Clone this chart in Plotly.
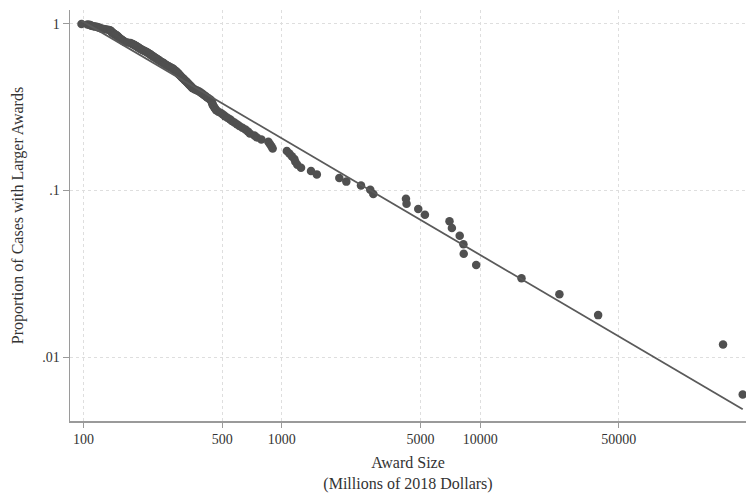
import plotly.graph_objects as go
import numpy as np

# Award sizes (millions of 2018 dollars), sorted ascending
awards = [
    97.7, 104.7, 107.2, 108.5, 109.7, 112.3, 114.9, 117.6, 119.0, 121.1,
    123.2, 126.1, 129.1, 132.9, 136.0, 136.8, 137.6, 138.4, 139.2, 140.0,
    141.3, 142.4, 143.8, 144.9, 146.6, 147.5, 148.3, 149.2, 150.1, 151.0,
    151.8, 153.1, 154.5, 155.9, 157.2, 158.7, 160.0, 162.0, 166.6, 172.5,
    175.5, 177.5, 179.6, 181.7, 184.1, 186.0, 187.9, 189.9, 191.9, 193.7,
    196.4, 199.4, 202.2, 205.3, 208.2, 210.6, 213.0, 215.5, 218.0, 220.0,
    222.6, 225.2, 227.8, 231.0, 233.8, 236.5, 239.3, 242.0, 245.4, 249.5,
    252.9, 255.9, 258.9, 262.8, 267.1, 271.2, 275.9, 280.8, 284.0, 287.4,
    290.7, 294.1, 296.9, 299.7, 302.5, 305.3, 308.2, 311.0, 314.7, 318.3,
    321.7, 325.0, 328.9, 332.3, 336.2, 339.6, 343.6, 347.6, 351.3, 355.3,
    364.5, 374.0, 383.2, 390.8, 397.7, 404.7, 411.8, 419.0, 427.8, 437.3,
    441.4, 444.0, 446.6, 448.1, 451.8, 457.1, 461.4, 466.7, 478.8, 492.9,
    504.5, 516.3, 531.5, 547.1, 560.0, 576.5, 593.4, 610.9, 632.5, 655.0,
    674.3, 690.1, 726.9, 748.4, 788.5, 855.1, 870.1, 885.4, 898.9, 1059.7,
    1090.9, 1123.0, 1156.1, 1169.5, 1196.9, 1249.3, 1403.3, 1501.0, 1949.0, 2113.6,
    2506.0, 2791.0, 2891.0, 4224.0, 4253.0, 4872.0, 5265.0, 7001.0, 7200.0, 7883.0,
    8232.0, 8260.0, 9546.0, 16150.0, 25080.0, 39320.0, 167600.0, 210600.0,
]

# Empirical share of cases with an award at least this large
n_cases = len(awards)
proportion = [(n_cases - i) / n_cases for i in range(n_cases)]

# Fitted power-law line: log10(P) = fit_intercept + fit_slope * log10(award)
fit_intercept = 1.413
fit_slope = -0.70

x_ticks = [100, 500, 1000, 5000, 10000, 50000]
x_tick_labels = ["100", "500", "1000", "5000", "10000", "50000"]
y_ticks = [1, 0.1, 0.01]
y_tick_labels = ["1", ".1", ".01"]

line_x = [min(awards), max(awards)]
line_y = [10 ** (fit_intercept + fit_slope * np.log10(v)) for v in line_x]

fig = go.Figure()
fig.add_trace(go.Scatter(
    x=awards, y=proportion, mode="markers",
    marker=dict(size=8.5, color="#505050", line=dict(width=0)),
    showlegend=False,
))
fig.add_trace(go.Scatter(
    x=line_x, y=line_y, mode="lines",
    line=dict(color="#5a5a5a", width=1.8),
    showlegend=False,
))

font_family = "Liberation Serif"
fig.update_layout(
    width=746, height=493,
    margin=dict(l=70, r=0, t=10, b=72),
    paper_bgcolor="white", plot_bgcolor="white",
    font=dict(family=font_family, color="#333333", size=14),
    xaxis=dict(
        type="log", range=[1.932, 5.34],
        automargin=False,
        tickvals=x_ticks, ticktext=x_tick_labels,
        showline=True, linecolor="#9a9a9a", linewidth=1.5,
        ticks="outside", ticklen=5, tickcolor="#9a9a9a", tickwidth=1,
        showgrid=True, gridcolor="#dedede", griddash="dot", gridwidth=1,
        zeroline=False,
        tickfont=dict(size=14, family=font_family, color="#333333"),
        title=dict(text="Award Size<br>(Millions of 2018 Dollars)",
                   font=dict(size=16, family=font_family, color="#333333"),
                   standoff=10),
    ),
    yaxis=dict(
        type="log", range=[-2.384, 0.084],
        automargin=False,
        tickvals=y_ticks, ticktext=y_tick_labels,
        showline=True, linecolor="#9a9a9a", linewidth=1.5,
        ticks="outside", ticklen=6, tickcolor="#9a9a9a", tickwidth=1,
        showgrid=True, gridcolor="#dedede", griddash="dot", gridwidth=1,
        zeroline=False,
        tickfont=dict(size=14, family=font_family, color="#333333"),
        title=dict(text="Proportion of Cases with Larger Awards",
                   font=dict(size=16, family=font_family, color="#333333"),
                   standoff=14),
    ),
)

# Remove the browser's default body margin so the figure fills the window exactly
fig.write_html(
    "out.html",
    config={"displayModeBar": False, "staticPlot": True},
    post_script="document.body.style.margin='0';document.body.style.overflow='hidden';",
)
